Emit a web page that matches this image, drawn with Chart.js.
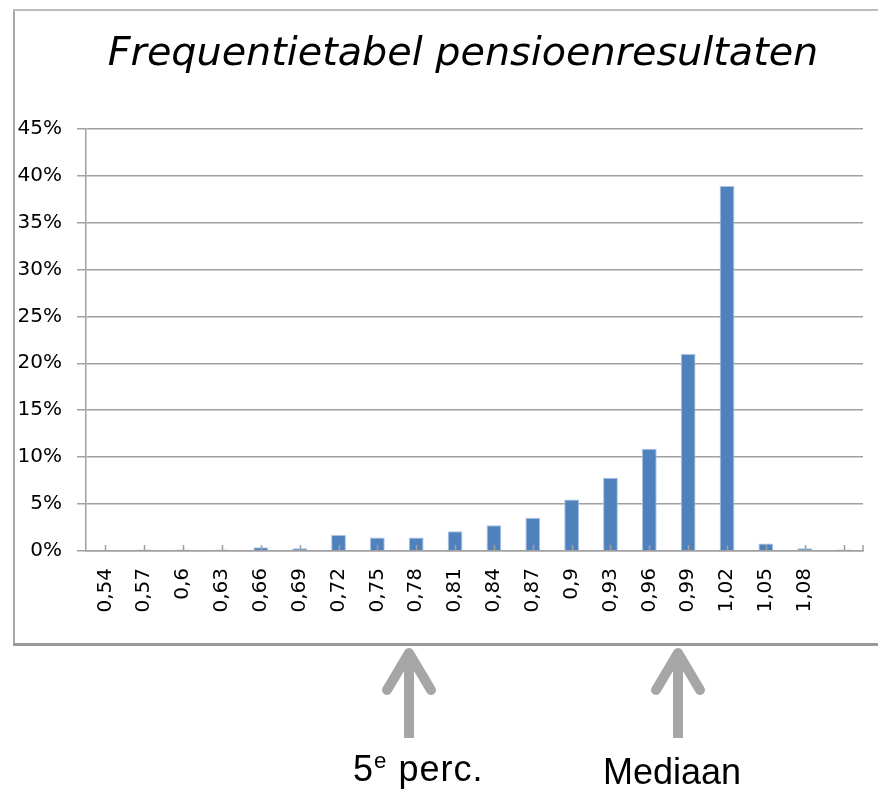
<!DOCTYPE html>
<html lang="nl">
<head>
<meta charset="utf-8">
<title>Frequentietabel pensioenresultaten</title>
<script src="https://cdn.jsdelivr.net/npm/chart.js@4.4.1/dist/chart.umd.min.js"></script>
<style>
  html, body { margin: 0; padding: 0; background: #fff; }
  body { width: 878px; height: 792px; position: relative; overflow: hidden; }
  #chartBox { position: absolute; left: 0; top: 0; width: 878px; height: 650px; }
  .frame-left { position: absolute; left: 13px; top: 9px; width: 2px; height: 636px; background: #a8a8a8; }
  .frame-top { position: absolute; left: 13px; top: 9px; width: 870px; height: 2px; background: #bcbcbc; }
  .frame-bottom { position: absolute; left: 13px; top: 643px; width: 870px; height: 3px; background: #9a9a9a; }
  .note { position: absolute; font-family: 'Liberation Sans', Arial, sans-serif; font-size: 36px;
          color: #000; line-height: 1; white-space: nowrap; }
  .note sup { font-size: 0.62em; vertical-align: 0.6em; line-height: 0; }
  #arrows { position: absolute; left: 0; top: 0; }
</style>
</head>
<body>
<div id="chartBox"><canvas id="freqChart" width="878" height="650"></canvas></div>
<div class="frame-left"></div>
<div class="frame-top"></div>
<div class="frame-bottom"></div>
<svg id="arrows" width="878" height="792">
  <g stroke="#a6a6a6" stroke-width="10" fill="none" stroke-linecap="round" stroke-linejoin="round">
    <line x1="409" y1="656" x2="409" y2="738" stroke-linecap="butt"/>
    <polyline points="387,690 409,653 431,690"/>
    <line x1="678" y1="656" x2="678" y2="738" stroke-linecap="butt"/>
    <polyline points="656,690 678,653 700,690"/>
  </g>
</svg>
<div class="note" style="left:353px; top:751px; letter-spacing:1px;">5<sup>e</sup> perc.</div>
<div class="note" style="left:603px; top:754px;">Mediaan</div>

<script>
// Klassen (pensioenresultaat) en frequentie in procenten
const resultLabels = ['0,54', '0,57', '0,6', '0,63', '0,66', '0,69', '0,72', '0,75', '0,78', '0,81',
                      '0,84', '0,87', '0,9', '0,93', '0,96', '0,99', '1,02', '1,05', '1,08', ''];
const frequencyPct = [0, 0.15, 0.15, 0.15, 0.4, 0.3, 1.7, 1.45, 1.45, 2.1,
                      2.75, 3.55, 5.5, 7.8, 10.9, 21.0, 38.9, 0.8, 0.3, 0.15];
const yTicks = [0, 5, 10, 15, 20, 25, 30, 35, 40, 45];

const AXIS_GREY = '#a0a0a0';
const TICK_FONT = { family: "'DejaVu Sans', Verdana, sans-serif", size: 20 };
const PAD_LEFT = 14;
const PLOT_LEFT = 86;

// Small tick marks pointing up into the plot, like the Excel original
const innerTicks = {
    id: 'innerTicks',
    afterDatasetsDraw(chart) {
        const { ctx, chartArea, scales: { x } } = chart;
        ctx.save();
        ctx.strokeStyle = AXIS_GREY;
        ctx.lineWidth = 1.5;
        ctx.beginPath();
        for (let i = 0; i < x.ticks.length; i++) {
            const px = Math.round(x.getPixelForTick(i)) + 0.5;
            ctx.moveTo(px, chartArea.bottom);
            ctx.lineTo(px, chartArea.bottom - 6);
        }
        ctx.moveTo(chartArea.right, chartArea.bottom);
        ctx.lineTo(chartArea.right, chartArea.bottom - 6);
        ctx.stroke();
        ctx.restore();
    }
};

// The title in the original sits a little left of the plot centre
const titleNudge = {
    id: 'titleNudge',
    afterLayout(chart) {
        const t = chart.titleBlock;
        if (t) {
            t.left -= 23;
            t.width += 23;
        }
    }
};

const ctx = document.getElementById('freqChart').getContext('2d');

new Chart(ctx, {
    type: 'bar',
    data: {
        labels: resultLabels,
        datasets: [{
            data: frequencyPct,
            backgroundColor: '#4f81bd',
            borderColor: '#a9c2e2',
            borderWidth: 1,
            categoryPercentage: 1,
            barPercentage: 0.38
        }]
    },
    options: {
        responsive: false,
        animation: false,
        devicePixelRatio: 1,
        layout: { padding: { left: PAD_LEFT, right: 15, top: 0, bottom: 9 } },
        plugins: {
            legend: { display: false },
            tooltip: { enabled: false },
            title: {
                display: true,
                fullSize: false,
                text: 'Frequentietabel pensioenresultaten',
                color: '#000',
                font: { family: "'DejaVu Sans', Verdana, sans-serif", size: 39.7, style: 'italic', weight: 'normal' },
                padding: { top: 31, bottom: 50 }
            }
        },
        scales: {
            x: {
                grid: { drawOnChartArea: false, drawTicks: false },
                border: { color: AXIS_GREY, width: 1.5 },
                ticks: {
                    color: '#000',
                    font: TICK_FONT,
                    minRotation: 90,
                    maxRotation: 90,
                    autoSkip: false,
                    padding: 17
                },
                afterFit(scale) {
                    scale.height = 90;
                    // the last category has no label, so no overflow room is needed
                    scale.paddingRight = 0;
                }
            },
            y: {
                min: 0,
                max: 45,
                afterBuildTicks(scale) { scale.ticks = yTicks.map(v => ({ value: v })); },
                ticks: {
                    color: '#000',
                    font: TICK_FONT,
                    padding: 15,
                    callback: v => v + '%'
                },
                grid: { color: AXIS_GREY, lineWidth: 1.5, tickLength: 9 },
                border: { color: AXIS_GREY, width: 1.5 },
                afterFit(scale) { scale.width = PLOT_LEFT - PAD_LEFT; }
            }
        }
    },
    plugins: [innerTicks, titleNudge]
});
</script>
</body>
</html>
